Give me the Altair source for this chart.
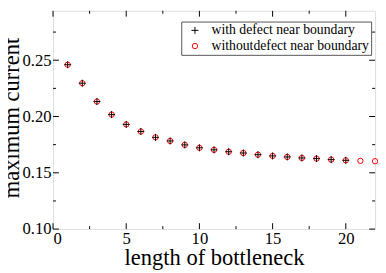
import altair as alt
import pandas as pd

# data
length = list(range(1, 23))
with_defect = [0.246, 0.2296, 0.2133, 0.2017, 0.193, 0.1867, 0.1815, 0.1783, 0.1748, 0.1722,
               0.1704, 0.1687, 0.1676, 0.1661, 0.1650, 0.1641, 0.1632, 0.1626, 0.1617, 0.1611]
without_defect = [0.246, 0.2296, 0.2133, 0.2017, 0.193, 0.1867, 0.1815, 0.1783, 0.1748, 0.1722,
                  0.1704, 0.1687, 0.1676, 0.1661, 0.1650, 0.1641, 0.1632, 0.1626, 0.1617, 0.1611,
                  0.1606, 0.1603]
series_names = ["with defect near boundary", "withoutdefect near boundary"]
x_major = [0, 5, 10, 15, 20]
x_minor = [2.5, 7.5, 12.5, 17.5]
y_major = [0.1, 0.15, 0.2, 0.25]
y_minor = [0.125, 0.175, 0.225, 0.275]

W, H = 329, 223
FONT = "Liberation Serif"

rows = []
for x, y in zip(length, without_defect):
    rows.append({"x": x, "y": y, "s": series_names[1]})
for x, y in zip(length, with_defect):
    rows.append({"x": x, "y": y, "s": series_names[0]})
df = pd.DataFrame(rows)

xs = alt.Scale(domain=[0, 22], nice=False, zero=False)
ys = alt.Scale(domain=[0.1, 0.2939], nice=False, zero=False)

plus = "M-1.3,0H1.3M0,-1.3V1.3"

leg = dict(title=None, orient="none", legendX=131, legendY=11,
           labelFont=FONT, labelFontSize=14, labelColor="black",
           strokeColor="#555", fillColor="white", padding=2,
           symbolSize=30, symbolStrokeWidth=1, rowPadding=2, symbolOffset=5,
           labelOffset=10, labelLimit=400)

points = alt.Chart(df).mark_point(filled=False, strokeWidth=1, size=30, opacity=1).encode(
    x=alt.X("x:Q", scale=xs, title="length of bottleneck",
            axis=alt.Axis(values=x_major, format="d", ticks=False, domain=False, grid=False,
                          labelFont=FONT, labelFontSize=17, labelColor="black", labelPadding=2,
                          titleFont=FONT, titleFontSize=23, titleFontWeight="normal",
                          titleColor="black", titleBaseline="alphabetic", titleY=36,
                          titleX=W / 2)),
    y=alt.Y("y:Q", scale=ys, title="maximum current",
            axis=alt.Axis(values=y_major, ticks=False, domain=False, grid=False,
                          labelFont=FONT, labelFontSize=17, labelColor="black", labelPadding=2,
                          titleFont=FONT, titleFontSize=23, titleFontWeight="normal",
                          titleColor="black", titleBaseline="alphabetic", titleX=-35,
                          titleY=109, titleAngle=270, titleAlign="center")),
    color=alt.Color("s:N", scale=alt.Scale(domain=series_names, range=["black", "red"]),
                    legend=alt.Legend(**leg)),
    shape=alt.Shape("s:N", scale=alt.Scale(domain=series_names, range=[plus, "circle"]),
                    legend=alt.Legend(**leg)),
)

xmaj = pd.DataFrame({"v": x_major})
xmin = pd.DataFrame({"v": x_minor})
ymaj = pd.DataFrame({"v": y_major})
ymin = pd.DataFrame({"v": y_minor})

def xticks(d, L):
    b = alt.Chart(d).mark_rule(color="black", strokeWidth=1).encode(
        x=alt.X("v:Q", scale=xs), y=alt.value(H), y2=alt.value(H - L))
    t = alt.Chart(d).mark_rule(color="black", strokeWidth=1).encode(
        x=alt.X("v:Q", scale=xs), y=alt.value(0), y2=alt.value(L))
    return [b, t]

def yticks(d, L):
    l = alt.Chart(d).mark_rule(color="black", strokeWidth=1).encode(
        y=alt.Y("v:Q", scale=ys), x=alt.value(0), x2=alt.value(L))
    r = alt.Chart(d).mark_rule(color="black", strokeWidth=1).encode(
        y=alt.Y("v:Q", scale=ys), x=alt.value(W), x2=alt.value(W - L))
    return [l, r]

layers = xticks(xmaj, 6) + xticks(xmin, 3) + yticks(ymaj, 6) + yticks(ymin, 3) + [points]

chart = alt.layer(*layers).properties(
    width=W, height=H,
    autosize=alt.AutoSizeParams(type="none"),
    padding={"left": 46, "top": 0, "right": 3, "bottom": 42},
).configure_view(stroke="black", strokeWidth=1).configure(background="white", font=FONT)

chart.save("out.html", embed_options={"renderer": "svg", "actions": False})
